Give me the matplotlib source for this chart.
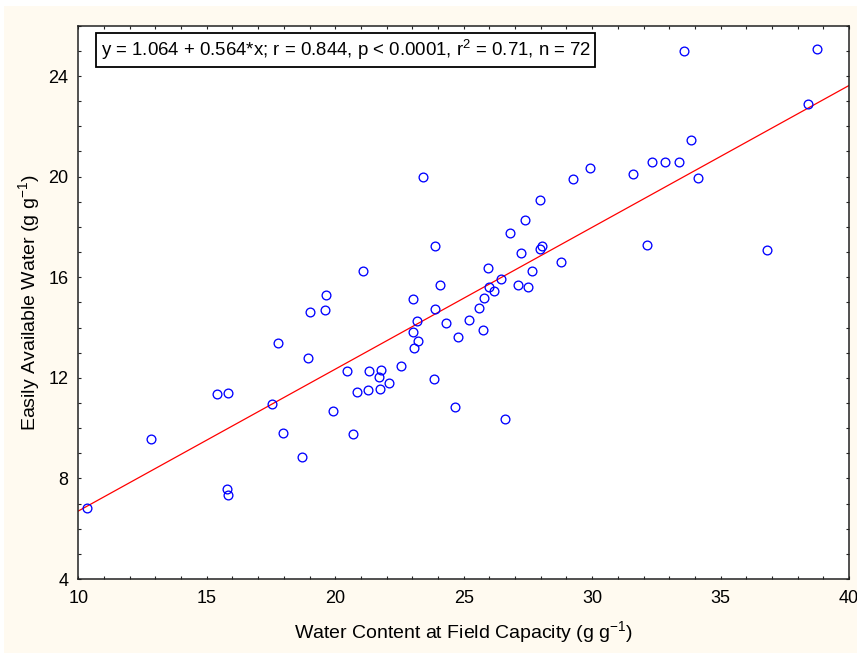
import numpy as np
import matplotlib
matplotlib.use("Agg")
import matplotlib.pyplot as plt
from matplotlib import ticker
from matplotlib.patches import Rectangle

# water content at field capacity (g g-1) vs easily available water (g g-1)
wc_fc = [10.35, 12.82, 15.40, 15.83, 15.79, 15.83, 17.52, 17.77, 17.97, 18.94,
         18.72, 19.92, 20.44, 20.70, 20.83, 21.30, 21.26, 21.69, 21.78, 21.74,
         22.08, 22.56, 23.41, 21.08, 19.66, 19.02, 19.61, 23.02, 23.17, 23.02,
         23.24, 23.06, 23.88, 24.07, 23.89, 24.31, 24.76, 25.19, 25.74, 25.61,
         25.79, 25.97, 26.19, 25.95, 26.47, 26.81, 27.38, 27.98, 27.25, 27.12,
         27.51, 27.64, 27.99, 28.04, 28.77, 29.24, 29.92, 31.61, 32.33, 32.83,
         33.37, 33.85, 34.11, 33.56, 38.77, 38.42, 32.13, 36.82, 23.84, 24.67,
         26.61]
eaw = [6.81, 9.58, 11.35, 11.39, 7.57, 7.35, 10.96, 13.38, 9.81, 12.77,
       8.84, 10.69, 12.28, 9.77, 11.45, 12.28, 11.53, 12.02, 12.32, 11.57,
       11.81, 12.46, 19.99, 16.25, 15.31, 14.61, 14.70, 15.15, 14.27, 13.81,
       13.47, 13.17, 17.25, 15.71, 14.74, 14.17, 13.64, 14.31, 13.91, 14.79,
       15.19, 15.63, 15.46, 16.38, 15.93, 17.74, 18.26, 19.07, 16.96, 15.71,
       15.63, 16.25, 17.13, 17.23, 16.59, 19.90, 20.34, 20.12, 20.60, 20.60,
       20.60, 21.45, 19.94, 25.00, 25.06, 22.90, 17.29, 17.08, 11.96, 10.83,
       10.38]

# fitted line as reported on the chart
intercept = 1.064
slope = 0.564

plt.rcParams['font.family'] = ['Liberation Sans', 'DejaVu Sans']
plt.rcParams['mathtext.fontset'] = 'custom'
plt.rcParams['mathtext.rm'] = 'Liberation Sans'

fig = plt.figure(figsize=(8.57, 6.53), dpi=100, facecolor='white')
fig.patches.append(Rectangle((4 / 857, 0), 1, 1 - 6 / 653, transform=fig.transFigure,
                             facecolor='#FFFAF0', edgecolor='none', zorder=-10))
ax = fig.add_axes([0.0914, 0.1133, 0.8993, 0.8473])
ax.set_facecolor('white')

x_line = np.array([10, 40])
ax.plot(x_line, intercept + slope * x_line, color='red', lw=0.9, zorder=2)
ax.plot(wc_fc, eaw, 'o', mfc='none', mec='#0000FF', ms=6.3, mew=0.95, zorder=3)

ax.set_xlim(10, 40)
ax.set_ylim(4, 26)
ax.xaxis.set_major_locator(ticker.MultipleLocator(5))
ax.xaxis.set_minor_locator(ticker.MultipleLocator(1))
ax.yaxis.set_major_locator(ticker.MultipleLocator(4))
ax.yaxis.set_minor_locator(ticker.MultipleLocator(1))

for s in ax.spines.values():
    s.set_linewidth(1.1)
    s.set_color('#222222')

ax.tick_params(which='both', direction='in', top=True, right=True,
               length=2.5, width=0.8, color='#222222')
ax.tick_params(axis='x', which='major', labelsize=13, pad=8)
ax.tick_params(axis='y', which='major', labelsize=13, pad=7)

ax.set_xlabel(r'Water Content at Field Capacity (g g$^{\mathregular{-1}}$)', fontsize=14, labelpad=9)
ax.set_ylabel(r'Easily Available Water (g g$^{\mathregular{-1}}$)', fontsize=14, labelpad=4)

ax.text(0.029, 0.956,
        r'y = 1.064 + 0.564*x; r = 0.844, p < 0.0001, r$^{\mathregular{2}}$ = 0.71, n = 72',
        transform=ax.transAxes, fontsize=13.4, va='center', ha='left',
        bbox=dict(boxstyle='square,pad=0.25', facecolor='white', edgecolor='black', lw=1.3))

fig.savefig('out.png', dpi=100, facecolor=fig.get_facecolor())
